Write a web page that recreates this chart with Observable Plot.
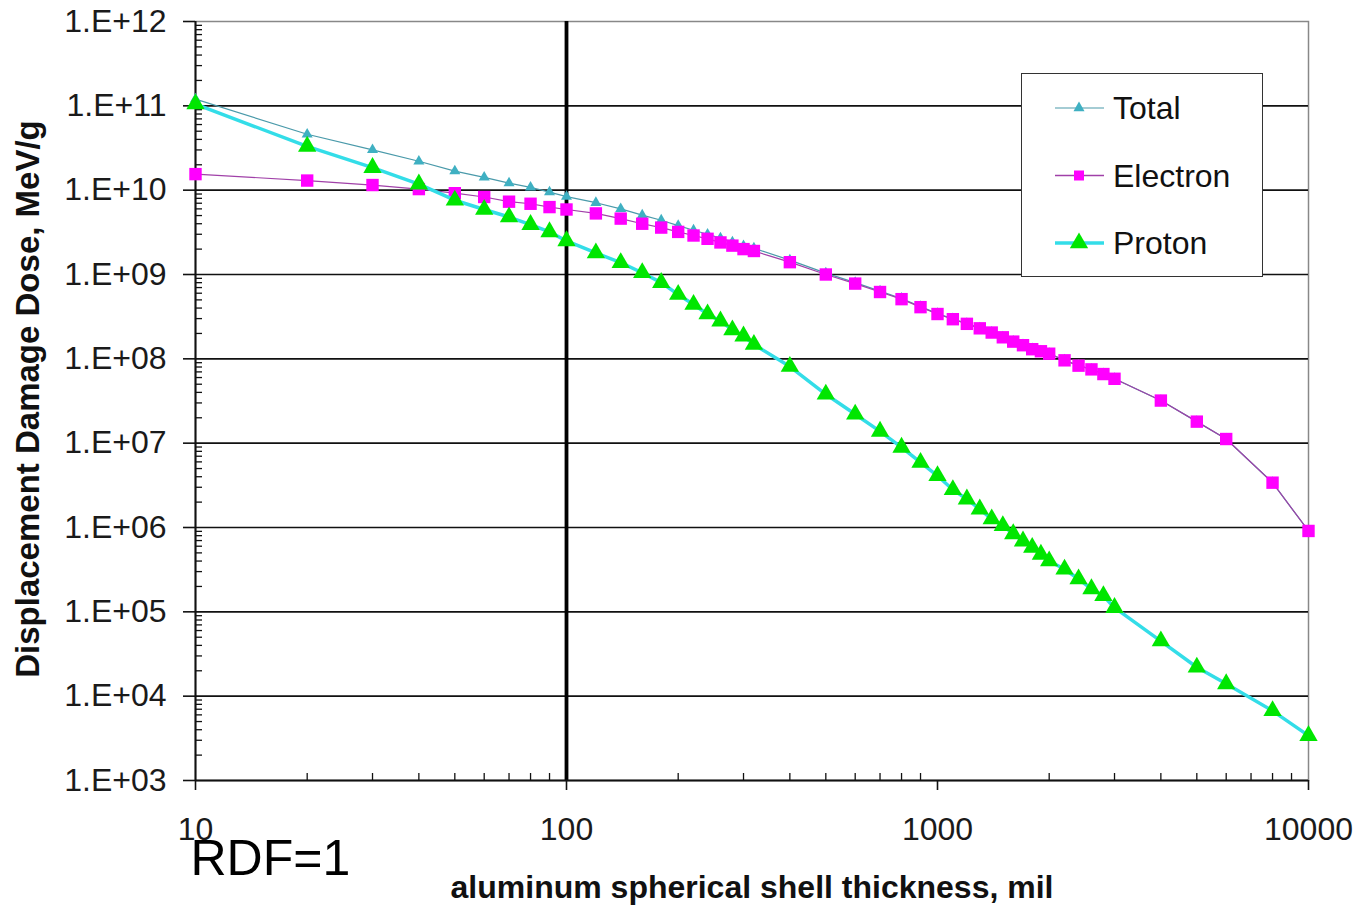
<!DOCTYPE html>
<html><head><meta charset="utf-8">
<script src="https://cdn.jsdelivr.net/npm/d3@7"></script>
<script src="https://cdn.jsdelivr.net/npm/@observablehq/plot@0.6"></script>
<style>
body{margin:0;background:#fff;}
#wrap{position:relative;width:1360px;height:905px;font-family:"Liberation Sans",Arial,sans-serif;}
#legend{position:absolute;left:1021px;top:73px;width:240px;height:202px;border:1.5px solid #333;background:#fff;}
</style></head><body><div id="wrap"><div id="chart"></div><div id="legend"></div></div>
<script>
// thickness, mil
const thickness = [10,20,30,40,50,60,70,80,90,100,
  120,140,160,180,200,220,240,260,280,300,320,
  400,500,600,700,800,900,1000,1100,1200,1300,1400,1500,1600,1700,1800,1900,2000,
  2200,2400,2600,2800,3000,
  4000,5000,6000,8000,10000];
const electron = [1.55e10,1.3e10,1.15e10,1.03e10,9.2e9,8.3e9,7.3e9,6.9e9,6.3e9,5.9e9,
  5.3e9,4.6e9,4.0e9,3.6e9,3.2e9,2.9e9,2.65e9,2.4e9,2.2e9,2.0e9,1.9e9,
  1.4e9,1.0e9,7.8e8,6.2e8,5.1e8,4.1e8,3.4e8,2.95e8,2.6e8,2.3e8,2.05e8,1.8e8,1.6e8,1.45e8,1.3e8,1.23e8,1.15e8,
  9.6e7,8.3e7,7.5e7,6.6e7,5.8e7,
  3.2e7,1.8e7,1.12e7,3.4e6,9.1e5];
const proton = [1.05e11,3.3e10,1.85e10,1.18e10,7.6e9,5.9e9,4.8e9,3.9e9,3.2e9,2.5e9,
  1.8e9,1.38e9,1.05e9,8.0e8,5.8e8,4.4e8,3.4e8,2.8e8,2.2e8,1.86e8,1.48e8,
  8.1e7,3.8e7,2.2e7,1.38e7,8.9e6,5.9e6,4.1e6,2.8e6,2.17e6,1.65e6,1.26e6,1.05e6,8.4e5,6.9e5,5.8e5,4.8e5,4.0e5,
  3.2e5,2.45e5,1.87e5,1.55e5,1.12e5,
  4.5e4,2.2e4,1.4e4,6.7e3,3.4e3];
const total = [1.2e11,4.6e10,3.0e10,2.2e10,1.68e10,1.42e10,1.21e10,1.08e10,9.5e9,8.4e9,
  7.1e9,6.0e9,5.05e9,4.4e9,3.8e9,3.35e9,3.0e9,2.7e9,2.42e9,2.19e9,2.05e9,
  1.48e9,1.04e9,8.0e8,6.34e8,5.2e8,4.16e8,3.44e8,2.98e8,2.62e8,2.32e8,2.06e8,1.81e8,1.61e8,1.46e8,1.31e8,1.235e8,1.154e8,
  9.63e7,8.32e7,7.52e7,6.62e7,5.81e7,
  3.2e7,1.8e7,1.12e7,3.4e6,9.1e5];
const seriesNames = ["Total","Electron","Proton"];
const xTicks = [10,100,1000,10000];
const yTicks = [1e3,1e4,1e5,1e6,1e7,1e8,1e9,1e10,1e11,1e12];
const yTitle = "Displacement Damage Dose, MeV/g";
const xTitle = "aluminum spherical shell thickness, mil";
const note = "RDF=1";

const rows = (vals) => thickness.map((t,i) => ({t, v: vals[i]}));
const T = rows(total), E = rows(electron), P = rows(proton);
const xMinor = [];
for (let d = 10; d < 10000; d *= 10) for (let k = 2; k <= 9; k++) xMinor.push(d*k);
const yMinor = [];
for (let d = 1e3; d < 1e12; d *= 10) for (let k = 2; k <= 9; k++) yMinor.push(d*k);
const yFmt = d => "1.E+" + String(Math.round(Math.log10(d))).padStart(2,"0");

const chart = Plot.plot({
  width: 1360, height: 905,
  marginLeft: 195, marginRight: 52, marginTop: 21, marginBottom: 125,
  style: {fontFamily: "Liberation Sans, Arial, sans-serif", background: "white"},
  x: {type: "log", domain: [10, 10000]},
  y: {type: "log", domain: [1e3, 1e12]},
  marks: [
    Plot.frame({stroke: "#888", strokeWidth: 1.5}),
    Plot.ruleY(yTicks.slice(1, -1), {stroke: "#111", strokeWidth: 1.6}),
    Plot.ruleX([100], {stroke: "#000", strokeWidth: 3.8}),
    Plot.ruleX([10], {stroke: "#111", strokeWidth: 2}),
    Plot.ruleY([1e3], {stroke: "#111", strokeWidth: 2}),
    Plot.axisY(yTicks, {tickFormat: yFmt, fontSize: 32, tickSize: 12, tickPadding: 17, fill: "#1a1a1a", stroke: "#111", strokeWidth: 1.6, label: null}),
    Plot.axisY(yMinor, {tickFormat: () => "", tickSize: -7, stroke: "#111", strokeWidth: 1.3, label: null}),
    Plot.axisX(xTicks, {tickFormat: d => String(d), fontSize: 32, tickSize: 10, tickPadding: 27, fill: "#1a1a1a", stroke: "#111", strokeWidth: 1.6, label: null}),
    Plot.axisX(xMinor, {tickFormat: () => "", tickSize: -7, stroke: "#111", strokeWidth: 1.3, label: null}),
    // Total
    Plot.line(T, {x: "t", y: "v", stroke: "#4a9aaa", strokeWidth: 1.2}),
    Plot.dot(T, {x: "t", y: "v", symbol: "triangle", r: 4.1, fill: "#3fb0c2"}),
    // Electron
    Plot.line(E, {x: "t", y: "v", stroke: "#a040a8", strokeWidth: 1.2}),
    Plot.dot(E, {x: "t", y: "v", symbol: "square", r: 7, fill: "#ff00ff"}),
    // Proton
    Plot.line(P, {x: "t", y: "v", stroke: "#33dde8", strokeWidth: 3.5}),
    Plot.dot(P, {x: "t", y: "v", symbol: "triangle", r: 6.8, fill: "#00e600"}),
    // titles
    Plot.text([yTitle], {text: d => d, frameAnchor: "left", dx: -167, dy: -2, rotate: -90, textAnchor: "middle", lineAnchor: "middle", fontSize: 33, fontWeight: "bold", fill: "#111"}),
    Plot.text([xTitle], {text: d => d, frameAnchor: "bottom", dy: 107, textAnchor: "middle", lineAnchor: "middle", fontSize: 32, fontWeight: "bold", fill: "#111"}),
    Plot.text([note], {text: d => d, frameAnchor: "bottom-left", dx: -5, dy: 78, textAnchor: "start", lineAnchor: "middle", fontSize: 50, fill: "#000"})
  ]
});
document.getElementById("chart").appendChild(chart);

// legend
const legendSpec = [
  {name: seriesNames[0], line: "#4a9aaa", lw: 1.2, sym: d3.symbolTriangle, size: Math.PI*4.1*4.1, fill: "#3fb0c2"},
  {name: seriesNames[1], line: "#a040a8", lw: 1.3, sym: d3.symbolSquare, size: 100, fill: "#ff00ff"},
  {name: seriesNames[2], line: "#33dde8", lw: 3.5, sym: d3.symbolTriangle, size: Math.PI*6.8*6.8, fill: "#00e600"}
];
const lg = d3.select("#legend").append("svg").attr("width", 240).attr("height", 202)
  .style("font-family", "Liberation Sans, Arial, sans-serif");
legendSpec.forEach((s, i) => {
  const g = lg.append("g").attr("transform", `translate(0,${34 + i*67.5})`);
  g.append("line").attr("x1", 33).attr("x2", 82).attr("stroke", s.line).attr("stroke-width", s.lw);
  g.append("path").attr("d", d3.symbol(s.sym, s.size)()).attr("transform", "translate(57,0)").attr("fill", s.fill);
  g.append("text").attr("x", 91).attr("dy", "0.35em").attr("font-size", 32).attr("fill", "#111").text(s.name);
});
</script></body></html>
